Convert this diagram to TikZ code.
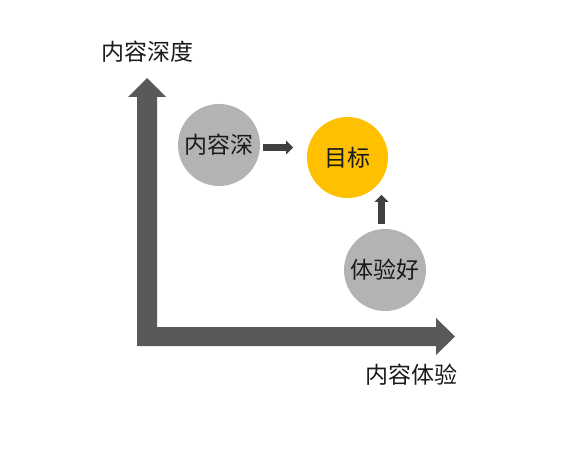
\documentclass[tikz,border=0pt]{standalone}
\usepackage{fontspec}
\newfontfamily\cjk{Noto Sans CJK SC}
\usetikzlibrary{arrows.meta}
\definecolor{axisgray}{HTML}{595959}
\definecolor{arrowdark}{HTML}{404040}
\definecolor{ballgray}{HTML}{B3B3B3}
\definecolor{goalyellow}{HTML}{FFC000}
\definecolor{textdark}{HTML}{1A1A1A}
\tikzset{
  lbl/.style={font=\cjk\fontsize{23}{27}\selectfont, text=textdark, inner sep=0pt},
  ball/.style={circle, minimum size=82pt, inner sep=0pt, fill=ballgray, font=\cjk\fontsize{23}{27}\selectfont, text=textdark},
  goalball/.style={ball, fill=goalyellow, minimum size=81pt},
  conn/.style={draw=arrowdark, line width=7pt, -{Triangle[length=7pt,width=13.5pt]}},
}
\begin{document}
\begin{tikzpicture}[x=1pt,y=-1pt]
\useasboundingbox (0,0) rectangle (588,449);
% L-shaped axes
\fill[axisgray] (137,346) -- (137,97) -- (128,97) -- (147,78) -- (166,97) -- (157,97)
  -- (157,327) -- (436,327) -- (436,318) -- (455,336.5) -- (436,355) -- (436,346) -- cycle;
\node[lbl] (ylab) at (147,52) {内容深度};
\node[lbl] (xlab) at (411,375) {内容体验};
% circles
\node[ball] (deep) at (219,145) {内容深};
\node[goalball] (goal) at (347.5,157.5) {目标};
\node[ball] (good) at (385,270) {体验好};
% connectors
\draw[conn] ([shift={(3,2.5)}]deep.east) -- ++(30,0);
\draw[conn] ([shift={(-3.5,-5)}]good.north) -- ++(0,-29);
\end{tikzpicture}
\end{document}
